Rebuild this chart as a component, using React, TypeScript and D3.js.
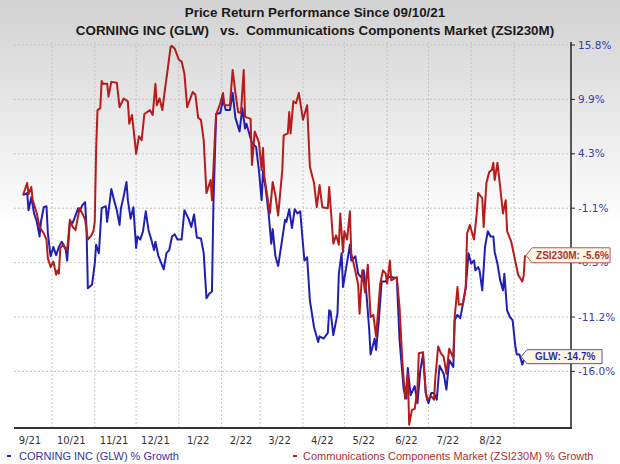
import * as d3 from "d3";

// days since 09/10/21 and % growth
const START = Date.UTC(2021, 8, 10);

const glwDays = [
  0, 3, 4, 6, 8, 10, 12, 13, 15, 17,
  18, 20, 22, 24, 26, 28, 29, 31, 32, 34,
  36, 38, 40, 41, 43, 45, 46, 47, 50, 52,
  53, 55, 57, 60, 61, 64, 66, 68, 70, 71,
  73, 75, 76, 78, 80, 82, 83, 85, 87, 89,
  91, 93, 95, 96, 98, 102, 104, 106, 108, 110,
  112, 115, 117, 120, 122, 124, 126, 129, 131, 133,
  135, 137, 138, 140, 143, 145, 147, 150, 152, 154,
  157, 159, 161, 162, 166, 169, 171, 173, 174, 176,
  178, 180, 181, 183, 185, 188, 190, 191, 193, 195,
  197, 199, 201, 202, 204, 206, 208, 211, 214, 215,
  218, 221, 222, 223, 225, 228, 229, 231, 232, 234,
  237, 238, 241, 243, 245, 247, 249, 251, 252, 255,
  256, 258, 260, 263, 265, 267, 271, 273, 276, 278,
  279, 281, 284, 286, 288, 290, 292, 294, 296, 298,
  300, 302, 305, 307, 309, 312, 313, 315, 317, 319,
  321, 323, 325, 327, 328, 330, 331, 333, 335, 337,
  339, 341, 342, 344, 346, 348, 349, 351, 353, 355,
  357, 358, 360, 362, 364,
];
const glwPct = [
  0.2, 0.4, -1.3, 0.0, -1.6, -2.4, -3.8, -2.4, -1.0, -0.9,
  -3.5, -5.7, -4.8, -5.6, -4.8, -4.3, -4.5, -5.1, -6.1, -2.4,
  -2.5, -1.8, -1.1, -1.4, -0.8, -0.5, -2.9, -8.6, -8.3, -6.4,
  -4.6, -5.4, -1.1, -0.9, -2.4, 0.8, -0.3, -1.3, -2.7, -1.1,
  0.1, 1.5, -0.3, -2.1, -1.0, -4.9, -3.8, -4.1, -3.3, -1.4,
  -3.2, -4.1, -5.1, -4.3, -5.6, -6.9, -5.4, -5.1, -3.8, -3.6,
  -4.1, -4.1, -1.3, -2.1, -2.9, -1.7, -3.9, -4.0, -5.4, -9.5,
  -9.1, -8.9, -1.0, 8.4, 8.5, 9.9, 8.8, 8.8, 10.6, 8.0,
  6.6, 9.0, 6.9, 7.4, 5.4, 5.0, 2.7, -0.3, 2.6, 0.8,
  -1.5, -4.5, -3.1, -5.7, -6.6, -4.0, -2.2, -2.4, -1.2, -3.0,
  -1.2, -1.6, -1.4, -3.0, -6.1, -5.8, -9.7, -12.1, -13.4, -12.9,
  -13.1, -12.6, -10.6, -10.7, -12.8, -10.9, -7.3, -5.4, -8.5, -7.0,
  -4.6, -6.1, -5.7, -7.3, -7.6, -7.0, -9.1, -12.3, -14.5, -13.1,
  -14.1, -11.5, -8.0, -8.0, -7.6, -7.6, -7.7, -13.2, -17.6, -18.4,
  -15.7, -18.1, -17.3, -18.8, -16.0, -14.5, -17.9, -18.8, -17.9, -17.9,
  -18.5, -15.5, -16.2, -17.6, -15.0, -15.6, -11.5, -11.0, -11.3, -10.0,
  -8.6, -5.4, -6.4, -6.1, -7.0, -6.7, -7.0, -8.8, -4.8, -3.3,
  -3.8, -3.8, -5.3, -6.4, -7.9, -8.8, -7.3, -10.6, -11.2, -11.5,
  -13.8, -14.5, -14.5, -15.4, -14.7,
];

const zsiDays = [
  0, 3, 4, 6, 7, 10, 12, 15, 17, 18,
  20, 22, 24, 25, 26, 27, 29, 32, 34, 36,
  38, 41, 43, 45, 47, 49, 51, 52, 53, 54,
  56, 57, 58, 61, 62, 64, 68, 70, 73, 76,
  77, 79, 81, 82, 84, 86, 88, 92, 94, 96,
  97, 99, 101, 103, 105, 107, 108, 110, 113, 115,
  117, 119, 123, 125, 127, 129, 131, 133, 136, 137,
  139, 140, 143, 145, 146, 150, 152, 154, 156, 158,
  160, 161, 165, 166, 168, 171, 173, 174, 175, 179,
  181, 183, 185, 188, 189, 192, 193, 194, 196, 198,
  200, 203, 206, 208, 211, 213, 215, 217, 221, 222,
  225, 227, 229, 230, 232, 233, 235, 237, 238, 241,
  243, 244, 246, 248, 250, 252, 254, 256, 259, 261,
  263, 264, 266, 267, 271, 273, 275, 277, 279, 280,
  282, 284, 286, 287, 290, 292, 293, 296, 298, 299,
  301, 303, 305, 307, 309, 312, 313, 315, 316, 319,
  321, 322, 324, 327, 329, 330, 333, 334, 336, 338,
  340, 341, 342, 344, 346, 348, 350, 351, 354, 357,
  359, 362, 363, 364,
];
const zsiPct = [
  0.2, 1.4, 0.3, 1.0, -0.3, -1.6, -2.9, -3.5, -4.1, -5.9,
  -6.7, -6.2, -7.4, -7.0, -7.3, -4.9, -4.6, -5.1, -2.2, -2.9,
  -3.2, -1.1, -1.6, -2.2, -4.1, -3.8, -3.3, -2.4, 4.7, 8.8,
  9.0, 11.9, 11.6, 11.6, 10.2, 11.8, 11.7, 9.1, 10.0, 9.7,
  7.4, 8.3, 5.7, 4.3, 6.1, 5.7, 8.4, 8.8, 8.3, 11.6,
  9.3, 10.0, 8.8, 11.1, 13.3, 15.6, 15.7, 15.4, 14.2, 14.0,
  12.7, 9.1, 10.7, 10.4, 8.0, 7.8, 5.7, 0.4, 1.7, -0.3,
  5.7, 8.3, 9.5, 10.6, 9.3, 9.3, 13.1, 10.6, 8.6, 8.5,
  13.1, 8.1, 7.9, 3.2, 6.6, 5.5, 2.7, 4.9, 2.0, -1.6,
  1.5, 0.2, -1.8, 2.7, 6.2, 6.4, 8.6, 6.4, 9.7, 9.5,
  10.6, 7.8, 9.3, 3.0, 1.4, -1.0, 1.2, -1.0, -1.1, 1.0,
  -4.5, -3.7, -4.6, -1.6, -5.3, -3.3, -4.1, -1.4, -5.4, -7.1,
  -8.3, -10.9, -7.0, -9.0, -6.5, -11.2, -11.0, -12.9, -8.2, -7.0,
  -7.3, -8.2, -6.1, -7.9, -7.6, -10.3, -15.0, -18.4, -16.2, -20.7,
  -19.4, -19.3, -17.6, -14.4, -14.3, -17.8, -18.5, -18.2, -18.5, -16.5,
  -13.8, -14.4, -14.7, -16.2, -14.0, -14.8, -11.2, -8.5, -10.1, -10.0,
  -8.5, -3.5, -2.7, -4.1, -1.6, 0.4, -0.1, -2.9, 1.4, 2.5,
  2.7, 3.4, 1.7, 3.4, 1.0, -1.6, -0.3, -3.3, -4.3, -6.2,
  -7.4, -8.0, -7.5, -5.6,
];

const yTicks = [15.8, 9.9, 4.3, -1.1, -6.3, -11.2, -16.0];
const monthLabels = ["9/21", "10/21", "11/21", "12/21", "1/22", "2/22", "3/22", "4/22", "5/22", "6/22", "7/22", "8/22"];

const BLUE = "#1f1fb4";
const RED = "#b71c1c";

export default function App() {
  const W = 620, H = 464;
  const PLOT = { left: 14, right: 571, top: 42, bottom: 428 };

  const x = d3.scaleUtc()
    .domain([new Date(Date.UTC(2021, 9, 1)), new Date(Date.UTC(2022, 8, 1))])
    .range([52, 514]);
  // ticks are evenly spaced on the original chart, values are not
  const y = d3.scaleLinear()
    .domain(yTicks)
    .range(yTicks.map((_, i) => 45 + i * 54.4));

  const toDate = (d: number) => d3.utcDay.offset(new Date(START), d);

  const line = d3.line<[number, number]>()
    .x(d => x(toDate(d[0])))
    .y(d => y(d[1]));

  const glw = glwDays.map((d, i) => [d, glwPct[i]] as [number, number]);
  const zsi = zsiDays.map((d, i) => [d, zsiPct[i]] as [number, number]);

  const monthStarts = d3.range(1, 13).map(i => d3.utcMonth.offset(new Date(Date.UTC(2021, 8, 1)), i));
  const labelDates = monthLabels.map((_, i) => d3.utcDay.offset(d3.utcMonth.offset(new Date(Date.UTC(2021, 8, 1)), i), 14));

  const glwLast = glw[glw.length - 1];
  const zsiLast = zsi[zsi.length - 1];

  const tag = (tipX: number, tipY: number, w: number, h: number) => {
    const x0 = tipX + 6;
    return `M${tipX},${tipY} L${x0},${tipY - h / 2} L${x0 + w},${tipY - h / 2} L${x0 + w},${tipY + h / 2} L${x0},${tipY + h / 2} Z`;
  };

  const zsiTip = { x: x(toDate(zsiLast[0])) + 1, y: y(zsiLast[1]) };
  const glwTip = { x: x(toDate(glwLast[0])) - 4, y: y(glwLast[1]) };

  return (
    <svg width={W} height={H} style={{ position: "absolute", left: 0, top: 0 }}
      fontFamily="'Liberation Sans', Arial, sans-serif">
      <defs>
        <linearGradient id="bg" x1="0" y1="0" x2="0" y2="1">
          <stop offset="0" stopColor="#d2d2d2" />
          <stop offset="0.45" stopColor="#fbfbfb" />
          <stop offset="0.48" stopColor="#ffffff" />
          <stop offset="1" stopColor="#ffffff" />
        </linearGradient>
      </defs>
      <rect width={W} height={H} fill="url(#bg)" />

      {/* grid */}
      <g stroke="#c4c4c4" strokeWidth={1} strokeDasharray="2,2">
        {yTicks.map(t => (
          <line key={t} x1={PLOT.left} x2={PLOT.right} y1={y(t)} y2={y(t)} />
        ))}
        {monthStarts.map(m => (
          <line key={+m} x1={x(m)} x2={x(m)} y1={PLOT.top} y2={PLOT.bottom} />
        ))}
      </g>

      {/* y axis on the right */}
      <line x1={PLOT.right} x2={PLOT.right} y1={PLOT.top} y2={PLOT.bottom} stroke="#222" strokeWidth={1.5} />
      {yTicks.map(t => (
        <g key={t}>
          <line x1={PLOT.right} x2={PLOT.right + 4} y1={y(t)} y2={y(t)} stroke="#222" />
          <text x={578} y={y(t)} dy="0.35em" fontSize={10.5} fill="#3b3ba8"
            fontFamily="'DejaVu Sans', Verdana, sans-serif">{`${t.toFixed(1)}%`}</text>
        </g>
      ))}

      {/* x axis */}
      <line x1={PLOT.left} x2={PLOT.right + 1} y1={PLOT.bottom} y2={PLOT.bottom} stroke="#333" strokeWidth={2} />
      {labelDates.map((d, i) => (
        <text key={i} x={x(d)} y={440} dy="0.35em" textAnchor="middle" fontSize={10}
          fill="#333" fontFamily="'DejaVu Sans', Verdana, sans-serif">{monthLabels[i]}</text>
      ))}

      {/* series */}
      <path d={line(glw) ?? ""} fill="none" stroke={BLUE} strokeWidth={2} strokeLinejoin="round" />
      <path d={line(zsi) ?? ""} fill="none" stroke={RED} strokeWidth={2} strokeLinejoin="round" />

      {/* end labels */}
      <path d={tag(zsiTip.x, zsiTip.y, 78, 15)} fill="#fdf7e4" stroke="#c85050" />
      <text x={zsiTip.x + 10} y={zsiTip.y} dy="0.35em" fontSize={10} fontWeight="bold" fill="#b03030">ZSI230M: -5.6%</text>
      <path d={tag(glwTip.x, glwTip.y, 75, 14)} fill="#fdf7e4" stroke="#5050c0" />
      <text x={glwTip.x + 14} y={glwTip.y} dy="0.35em" fontSize={10} fontWeight="bold" fill="#2d2d9a">GLW: -14.7%</text>

      {/* title */}
      <text x={315} y={17} textAnchor="middle" fontSize={13.4} fontWeight="bold" fill="#1a1a1a">Price Return Performance Since 09/10/21</text>
      <text x={315} y={35} textAnchor="middle" fontSize={13.4} fontWeight="bold" fill="#1a1a1a" xmlSpace="preserve">CORNING INC (GLW)   vs.  Communications Components Market (ZSI230M)</text>

      {/* legend */}
      <line x1={7} x2={11} y1={456} y2={456} stroke={BLUE} strokeWidth={2} />
      <text x={19} y={456} dy="0.35em" fontSize={11} fill="#3434a6">CORNING INC (GLW) % Growth</text>
      <line x1={293} x2={297} y1={456} y2={456} stroke={RED} strokeWidth={2} />
      <text x={303} y={456} dy="0.35em" fontSize={11} fill="#b03030">Communications Components Market (ZSI230M) % Growth</text>
    </svg>
  );
}
